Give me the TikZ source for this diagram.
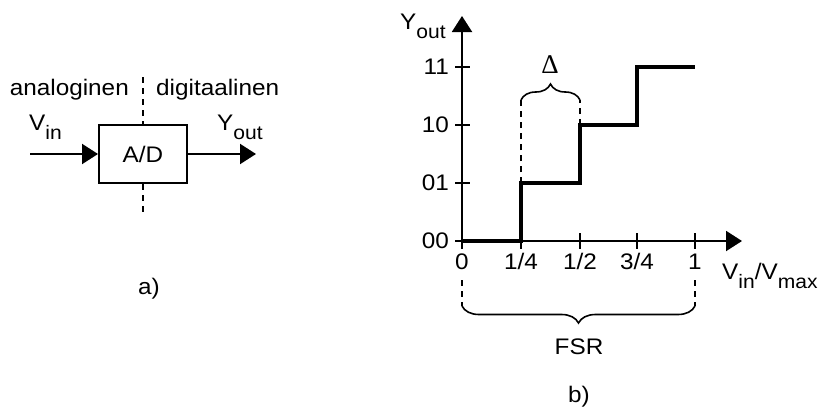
\documentclass[tikz,border=0pt]{standalone}
\usepackage{fontspec}
\setmainfont[FakeStretch=1.08]{Liberation Sans}
\newfontfamily\greekfont{Liberation Serif}
\usetikzlibrary{arrows.meta,decorations.pathreplacing}
% lowered subscript text
\newcommand\sbs[1]{\raisebox{-9pt}{\fontsize{19.5}{19.5}\selectfont #1}}
\begin{document}
\begin{tikzpicture}[x=1pt,y=-1pt,
  lbl/.style={font=\fontsize{22.5}{26}\selectfont, inner sep=0pt},
  solid line/.style={line width=2pt},
  arr/.style={line width=2pt,-{Triangle[length=16pt,width=20pt]}},
  dashline/.style={line width=1.8pt,dash pattern=on 6pt off 5pt},
  stair/.style={line width=3.5pt,line join=miter},
  bracebar/.style={line width=1.6pt,decorate,decoration={brace,amplitude=#1}},
]
\useasboundingbox (0,0) rectangle (820,407);

% ---------- a) converter block ----------
\node[lbl,draw,line width=2pt,minimum width=88pt,minimum height=58pt] (ad) at (143,154) {A/D};
\coordinate (divtop) at (143,77);
\coordinate (divbot) at (143,216);
\draw[dashline] (divtop) -- (ad.north);
\draw[dashline] (ad.south) -- (divbot);
\coordinate (vin) at (30,154);
\coordinate (yout) at (256,154);
\draw[arr] (vin) -- (ad.west);
\draw[arr] (ad.east) -- (yout);
\node[lbl,anchor=base east] (ana) at (129,95) {analoginen};
\node[lbl,anchor=base west] (dig) at (156,95) {digitaalinen};
\node[lbl,anchor=base west] (vinl) at (29,130) {V\sbs{in}};
\node[lbl,anchor=base west] (youtl) at (217,130) {Y\sbs{out}};
\node[lbl,anchor=base] (capa) at (149,294) {a)};

% ---------- b) transfer characteristic ----------
\coordinate (o) at (462,241);
\coordinate (xs) at (455,241);
\coordinate (xe) at (742,241);
\coordinate (ys) at (462,249);
\coordinate (ye) at (462,16);
\draw[arr] (xs) -- (xe);
\draw[arr] (ys) -- (ye);
\foreach \x in {521,580,637,695} \draw[solid line] (\x,233) -- (\x,249);
\foreach \y in {67,125,183} \draw[solid line] (455,\y) -- (470,\y);

\draw[stair] (o) -- (521,241) -- (521,183) -- (580,183) -- (580,125)
  -- (637,125) -- (637,67) -- (695,67);

\node[lbl,anchor=east] (l11) at (449,67) {11};
\node[lbl,anchor=east] (l10) at (449,125) {10};
\node[lbl,anchor=east] (l01) at (449,183) {01};
\node[lbl,anchor=east] (l00) at (449,241) {00};
\node[lbl,anchor=base west] (yax) at (400,29) {Y\sbs{out}};

\node[lbl,anchor=base] (t0) at (462,269) {0};
\node[lbl,anchor=base] (t1) at (521,269) {1/4};
\node[lbl,anchor=base] (t2) at (580,269) {1/2};
\node[lbl,anchor=base] (t3) at (637,269) {3/4};
\node[lbl,anchor=base] (t4) at (695,269) {1};
\node[lbl,anchor=base west] (xax) at (722,279) {V\sbs{in}/V\sbs{max}};

% step width marker
\coordinate (da) at (521,100);
\coordinate (db) at (580,100);
\draw[dashline] (521,183) -- (da);
\draw[dashline] (580,125) -- (db);
\draw[bracebar=16pt] (da) -- (db);
\node[anchor=base,inner sep=0pt,font=\greekfont\fontsize{27}{27}\selectfont] (delta) at (550,73) {Δ};

% full scale range marker
\coordinate (fa) at (462,306);
\coordinate (fb) at (695,306);
\draw[dashline] (462,280) -- (fa);
\draw[dashline] (695,280) -- (fb);
\draw[bracebar=17pt] (fb) -- (fa);
\node[lbl,anchor=base] (fsr) at (579,354) {FSR};
\node[lbl,anchor=base] (capb) at (579,402) {b)};
\end{tikzpicture}
\end{document}
